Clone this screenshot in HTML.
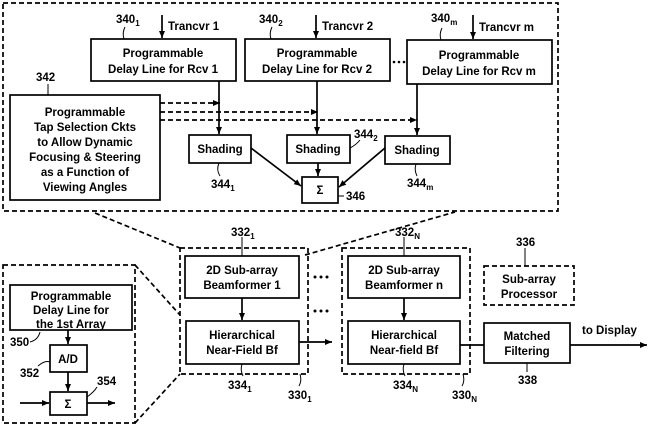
<!DOCTYPE html>
<html><head><meta charset="utf-8"><style>body{margin:0;background:#fff}svg{display:block}text{font-family:"Liberation Sans",Arial,sans-serif;font-size:11.5px;fill:#000;font-weight:bold}</style></head><body>
<svg width="649" height="427" viewBox="0 0 649 427" xmlns="http://www.w3.org/2000/svg">
<defs><marker id="a" markerWidth="8" markerHeight="8" refX="7" refY="4" orient="auto" markerUnits="userSpaceOnUse"><path d="M0,1 L7,4 L0,7z" fill="#000"/></marker></defs>
<g fill="none" stroke="#000" stroke-width="1.7">
<g stroke-dasharray="5,3">
<rect x="3" y="3" width="555" height="208"/>
<rect x="180" y="248" width="128" height="126"/>
<rect x="342" y="248" width="128" height="126"/>
<rect x="484" y="266" width="90" height="39"/>
<rect x="3" y="265" width="132" height="158"/>
<line x1="95" y1="213" x2="180" y2="248"/>
<line x1="305" y1="255" x2="455" y2="212"/>
<line x1="135" y1="265" x2="180" y2="315"/>
<line x1="135" y1="423" x2="180" y2="374"/>
<path d="M160,103 H220" marker-end="url(#a)"/>
<path d="M160,112 H318" marker-end="url(#a)"/>
<path d="M160,120 H417" marker-end="url(#a)"/>
</g>
<rect x="91" y="39" width="145" height="42"/>
<rect x="245" y="39" width="145" height="42"/>
<rect x="407" y="40" width="145" height="44"/>
<rect x="10" y="95" width="150" height="105"/>
<rect x="189" y="135" width="62" height="28"/>
<rect x="287" y="135" width="63" height="28"/>
<rect x="385" y="136" width="65" height="28"/>
<rect x="302" y="177" width="36" height="26"/>
<rect x="185" y="256" width="114" height="42"/>
<rect x="186" y="321" width="113" height="43"/>
<rect x="348" y="256" width="112" height="42"/>
<rect x="348" y="321" width="112" height="43"/>
<rect x="484" y="323" width="86" height="40"/>
<rect x="10" y="285" width="122" height="45"/>
<rect x="50" y="345" width="37" height="27"/>
<rect x="50" y="392" width="37" height="23"/>
<path d="M162,15 V38" marker-end="url(#a)"/>
<path d="M316,15 V38" marker-end="url(#a)"/>
<path d="M473,15 V39" marker-end="url(#a)"/>
<path d="M219,81 V134" marker-end="url(#a)"/>
<path d="M317,81 V134" marker-end="url(#a)"/>
<path d="M417,84 V135" marker-end="url(#a)"/>
<path d="M251,148 L301,186" marker-end="url(#a)"/>
<path d="M318,163 V176" marker-end="url(#a)"/>
<path d="M385,148 L339,187" marker-end="url(#a)"/>
<path d="M242,298 V320" marker-end="url(#a)"/>
<path d="M404,298 V320" marker-end="url(#a)"/>
<path d="M299,342 H332" marker-end="url(#a)"/>
<path d="M460,345 H484"/>
<path d="M570,345 H647" marker-end="url(#a)"/>
<path d="M68,330 V344" marker-end="url(#a)"/>
<path d="M68,372 V391" marker-end="url(#a)"/>
<path d="M20,403 H49" marker-end="url(#a)"/>
<path d="M87,403 H115" marker-end="url(#a)"/>
<g stroke-width="1">
<path d="M125,27 Q122,33 124,39"/><path d="M272,27 Q269,33 271,39"/><path d="M442,28 Q439,34 441,40"/>
<path d="M48,84 V95"/><path d="M219,163 Q216,170 220,176"/><path d="M350,148 Q356,145 360,140"/>
<path d="M416,164 Q414,170 417,176"/><path d="M338,196 H344"/>
<path d="M242,237 V256"/><path d="M404,237 V256"/><path d="M525,248 V266"/>
<path d="M242,364 Q240,370 243,376"/><path d="M404,364 Q402,370 405,376"/>
<path d="M300,374 Q302,381 299,386"/><path d="M463,374 Q465,381 462,386"/>
<path d="M527,363 V372"/>
<path d="M30,342 Q38,340 40,332"/><path d="M38,366 Q45,360 50,362"/><path d="M87,397 Q94,392 97,387"/>
</g>
</g>
<g fill="#000"><circle cx="394" cy="62" r="1.3"/><circle cx="399" cy="62" r="1.3"/><circle cx="404" cy="62" r="1.3"/>
<circle cx="315" cy="277" r="1.5"/><circle cx="321" cy="277" r="1.5"/><circle cx="327" cy="277" r="1.5"/>
<circle cx="315" cy="311" r="1.5"/><circle cx="321" cy="311" r="1.5"/><circle cx="327" cy="311" r="1.5"/></g>
<g text-anchor="middle">
<text x="163" y="57">Programmable</text><text x="163" y="73">Delay Line for Rcv 1</text>
<text x="317" y="57">Programmable</text><text x="317" y="73">Delay Line for Rcv 2</text>
<text x="479" y="59">Programmable</text><text x="479" y="75">Delay Line for Rcv m</text>
<text x="85" y="116">Programmable</text><text x="85" y="131">Tap Selection Ckts</text><text x="85" y="146">to Allow Dynamic</text><text x="85" y="161">Focusing &amp; Steering</text><text x="85" y="176">as a Function of</text><text x="85" y="191">Viewing Angles</text>
<text x="220" y="153">Shading</text><text x="318" y="153">Shading</text><text x="417" y="154">Shading</text>
<text x="320" y="194">Σ</text>
<text x="242" y="274">2D Sub-array</text><text x="242" y="289">Beamformer 1</text>
<text x="242" y="339">Hierarchical</text><text x="242" y="354">Near-Field Bf</text>
<text x="404" y="274">2D Sub-array</text><text x="404" y="289">Beamformer n</text>
<text x="404" y="339">Hierarchical</text><text x="404" y="354">Near-field Bf</text>
<text x="529" y="283">Sub-array</text><text x="529" y="298">Processor</text>
<text x="527" y="340">Matched</text><text x="527" y="355">Filtering</text>
<text x="71" y="300">Programmable</text><text x="71" y="314">Delay Line for</text><text x="71" y="328">the 1st Array</text>
<text x="68" y="363">A/D</text><text x="68" y="408">Σ</text>
</g>
<text x="168" y="30">Trancvr 1</text><text x="322" y="30">Trancvr 2</text><text x="479" y="31">Trancvr m</text>
<text x="116" y="23">340<tspan font-size="8" dy="3">1</tspan></text>
<text x="259" y="23">340<tspan font-size="8" dy="3">2</tspan></text>
<text x="431" y="22">340<tspan font-size="8" dy="3">m</tspan></text>
<text x="36" y="81">342</text>
<text x="211" y="188">344<tspan font-size="8" dy="3">1</tspan></text>
<text x="354" y="138">344<tspan font-size="8" dy="3">2</tspan></text>
<text x="407" y="187">344<tspan font-size="8" dy="3">m</tspan></text>
<text x="346" y="200">346</text>
<text x="231" y="236">332<tspan font-size="8" dy="3">1</tspan></text>
<text x="395" y="236">332<tspan font-size="8" dy="3">N</tspan></text>
<text x="516" y="246">336</text>
<text x="228" y="389">334<tspan font-size="8" dy="3">1</tspan></text>
<text x="288" y="399">330<tspan font-size="8" dy="3">1</tspan></text>
<text x="393" y="389">334<tspan font-size="8" dy="3">N</tspan></text>
<text x="452" y="399">330<tspan font-size="8" dy="3">N</tspan></text>
<text x="518" y="384">338</text>
<text x="582" y="334">to Display</text>
<text x="10" y="346">350</text><text x="20" y="377">352</text><text x="97" y="385">354</text>
</svg>
</body></html>
